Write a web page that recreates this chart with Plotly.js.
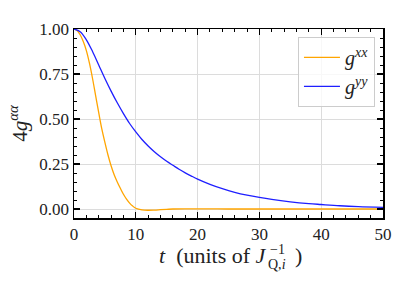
<!DOCTYPE html>
<html>
<head>
<meta charset="utf-8">
<script src="https://cdn.plot.ly/plotly-3.0.1.min.js"></script>
<style>html,body{margin:0;padding:0;background:#fff;}#chart{width:415px;height:295px;}</style>
</head>
<body>
<div id="chart"></div>
<script>
const tXX = [0, 0.5, 1, 1.5, 2, 2.5, 3, 3.5, 4, 4.5, 5, 5.5, 6, 6.5, 7, 7.5, 8, 8.5, 9, 9.5, 10, 11, 12, 13, 14, 15, 16, 18, 20, 25, 30, 35, 40, 45, 50];
const gXX = [1.0, 0.992, 0.968, 0.93, 0.88, 0.81, 0.725, 0.63, 0.535, 0.445, 0.37, 0.30, 0.24, 0.19, 0.15, 0.115, 0.082, 0.055, 0.033, 0.016, 0.004, -0.005, -0.007, -0.006, -0.004, -0.002, 0.0, 0.001, 0.001, 0.0, 0.0, 0.0, 0.0, 0.0, 0.0];
const tYY = [0, 1, 2, 3, 4, 5, 6, 7, 8, 9, 10, 11, 12, 13, 14, 15, 16, 17, 18, 19, 20, 22, 24, 26, 28, 30, 32, 35, 38, 40, 43, 46, 50];
const gYY = [1.0, 0.985, 0.94, 0.875, 0.80, 0.725, 0.655, 0.59, 0.53, 0.475, 0.428, 0.386, 0.35, 0.318, 0.29, 0.265, 0.243, 0.221, 0.201, 0.183, 0.166, 0.137, 0.113, 0.093, 0.077, 0.064, 0.053, 0.04, 0.03, 0.025, 0.018, 0.013, 0.009];
const xTicks = [0, 10, 20, 30, 40, 50];
const yTicks = [0, 0.25, 0.5, 0.75, 1.0];
const names = ['<i>g</i><sup><i>xx</i></sup>', '<i>g</i><sup><i>yy</i></sup>'];
const xTitleMain = '<i>t</i>  (units of <i>J</i>';
const xTitleSup = '−1';
const xTitleSub = 'Q,<i>i</i>';
const yTitle = '4<i>g</i><sup><i>αα</i></sup>';

const serif = "'Liberation Serif', 'Times New Roman', serif";
const ink = '#222';
const traces = [
  {x: tXX, y: gXX, type: 'scatter', mode: 'lines', name: names[0], line: {color: '#FFA500', width: 1.3, shape: 'spline'}},
  {x: tYY, y: gYY, type: 'scatter', mode: 'lines', name: names[1], line: {color: '#1f1fff', width: 1.3, shape: 'spline'}}
];
const axisCommon = {
  showline: true, linecolor: '#000', linewidth: 1.5, mirror: 'ticks',
  ticks: 'inside', ticklen: 6, tickwidth: 1.2, tickcolor: '#000',
  showgrid: true, gridcolor: '#dcdcdc', gridwidth: 1, zeroline: false,
  tickfont: {family: serif, size: 17, color: ink}
};
const px = (v) => (v - 74) / 309;
const py = (v) => (218 - v) / 189;
const layout = {
  width: 415, height: 295,
  margin: {l: 74, r: 32, t: 29, b: 77},
  paper_bgcolor: '#fff', plot_bgcolor: '#fff',
  showlegend: true,
  font: {family: serif, color: ink},
  xaxis: Object.assign({}, axisCommon, {
    range: [0, 50], tickvals: xTicks, ticktext: xTicks.map(String),
    minor: {dtick: 2, ticks: 'inside', ticklen: 3, tickwidth: 1, tickcolor: '#000', showgrid: false}
  }),
  yaxis: Object.assign({}, axisCommon, {
    range: [-0.05, 1.0], tickvals: yTicks, ticktext: yTicks.map(v => v.toFixed(2)),
    minor: {dtick: 0.05, ticks: 'inside', ticklen: 3, tickwidth: 1, tickcolor: '#000', showgrid: false},
    title: {text: yTitle, font: {family: serif, size: 21, color: ink}, standoff: 6}
  }),
  annotations: [
    {xref: 'paper', yref: 'paper', x: px(269), y: py(255), xanchor: 'right', yanchor: 'middle', text: xTitleMain, showarrow: false, font: {family: serif, size: 22, color: ink}},
    {xref: 'paper', yref: 'paper', x: px(268), y: py(249), xanchor: 'left', yanchor: 'middle', text: xTitleSup, showarrow: false, font: {family: serif, size: 14, color: ink}},
    {xref: 'paper', yref: 'paper', x: px(266), y: py(264), xanchor: 'left', yanchor: 'middle', text: xTitleSub, showarrow: false, font: {family: serif, size: 14, color: ink}},
    {xref: 'paper', yref: 'paper', x: px(293), y: py(255), xanchor: 'left', yanchor: 'middle', text: ')', showarrow: false, font: {family: serif, size: 22, color: ink}}
  ],
  legend: {
    x: 0.974, y: 0.958, xanchor: 'right', yanchor: 'top',
    bgcolor: 'rgba(255,255,255,0.8)', bordercolor: '#cccccc', borderwidth: 1,
    font: {family: serif, size: 20, color: ink},
    tracegroupgap: 0, itemwidth: 36
  }
};
Plotly.newPlot('chart', traces, layout, {staticPlot: true, displayModeBar: false});
</script>
</body>
</html>
